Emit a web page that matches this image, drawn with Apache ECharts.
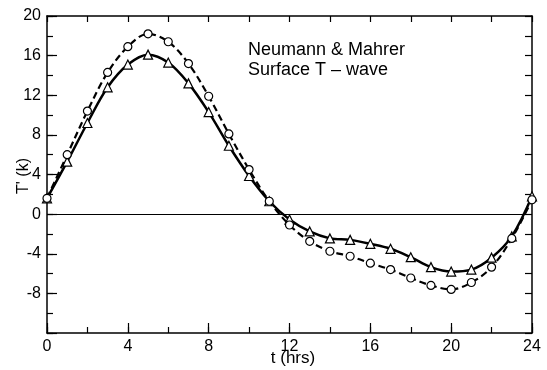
<!DOCTYPE html>
<html><head><meta charset="utf-8">
<script src="https://cdn.jsdelivr.net/npm/echarts@6/dist/echarts.min.js"></script>
<style>html,body{margin:0;padding:0;background:#fff}#c{width:547px;height:370px}</style>
</head><body><div id="c"></div>
<script>
const hours = [0,1,2,3,4,5,6,7,8,9,10,11,12,13,14,15,16,17,18,19,20,21,22,23,24];
const circleVals = [1.6,6.0,10.4,14.3,16.9,18.2,17.4,15.2,11.9,8.1,4.5,1.3,-1.1,-2.75,-3.75,-4.25,-4.95,-5.6,-6.45,-7.2,-7.6,-6.9,-5.35,-2.45,1.45];
const triangleVals = [1.6,5.3,9.2,12.8,15.1,16.1,15.3,13.2,10.3,6.9,3.85,1.3,-0.55,-1.75,-2.45,-2.6,-3.0,-3.5,-4.35,-5.35,-5.8,-5.6,-4.4,-2.25,1.8];
const xTicks = [0,4,8,12,16,20,24];
const yTicks = [-8,-4,0,4,8,12,16,20];
const titleLines = ['Neumann & Mahrer', 'Surface T \u2013 wave'];
const xName = 't (hrs)';
const yName = "T' (k)";

const FONT = 'Liberation Sans';
const grid = {left:47, right:15, top:16, bottom:37, outerBoundsMode:'none', containLabel:false};
const pair = (xs, ys) => xs.map((x,i)=>[x, ys[i]]);
const line = {onZero:false, lineStyle:{color:'#000', width:1.5}};

const chart = echarts.init(document.getElementById('c'), null, {renderer:'canvas'});
chart.setOption({
  animation:false,
  backgroundColor:'#fff',
  grid:[grid, Object.assign({}, grid)],
  xAxis:[
    {gridIndex:0, type:'value', position:'bottom', min:0, max:24, interval:4,
     axisLine:line,
     axisTick:{inside:true, length:10, lineStyle:{color:'#000', width:1.2}},
     axisLabel:{color:'#000', fontSize:16, fontFamily:FONT, margin:6,
       formatter:v=> xTicks.includes(v)? String(v):''},
     splitLine:{show:false}},
    {gridIndex:0, type:'value', position:'top', min:0, max:24, interval:2,
     axisLine:line,
     axisTick:{inside:true, length:6, lineStyle:{color:'#000', width:1.2}},
     axisLabel:{show:false}, splitLine:{show:false}},
    {gridIndex:1, type:'value', position:'bottom', min:0, max:24, interval:2,
     axisLine:{show:false, onZero:false},
     axisTick:{inside:true, length:6, lineStyle:{color:'#000', width:1.2}},
     axisLabel:{show:false}, splitLine:{show:false}}
  ],
  yAxis:[
    {gridIndex:0, type:'value', position:'left', min:-12, max:20, interval:4,
     axisLine:line,
     axisTick:{inside:true, length:10, lineStyle:{color:'#000', width:1.2}},
     axisLabel:{color:'#000', fontSize:16, fontFamily:FONT, margin:6,
       formatter:v=> yTicks.includes(v)? String(v):''},
     splitLine:{show:false}},
    {gridIndex:0, type:'value', position:'right', min:-12, max:20, interval:2,
     axisLine:line,
     axisTick:{inside:true, length:7, lineStyle:{color:'#000', width:1.2}},
     axisLabel:{show:false}, splitLine:{show:false}},
    {gridIndex:1, type:'value', position:'left', min:-12, max:20, interval:2,
     axisLine:{show:false, onZero:false},
     axisTick:{inside:true, length:6, lineStyle:{color:'#000', width:1.2}},
     axisLabel:{show:false}, splitLine:{show:false}}
  ],
  graphic:[
    {type:'text', left:248, top:41, style:{text:titleLines[0], fill:'#000', font:'18px "Liberation Sans"'}},
    {type:'text', left:248, top:61, style:{text:titleLines[1], fill:'#000', font:'18px "Liberation Sans"'}},
    {type:'text', x:293, y:358, style:{text:xName, fill:'#000', font:'17px "Liberation Sans"', align:'center', verticalAlign:'middle'}},
    {type:'text', x:24, y:176, rotation:Math.PI/2, style:{text:yName, fill:'#000', font:'16px "Liberation Sans"', align:'center', verticalAlign:'middle'}}
  ],
  series:[
    {type:'line', xAxisIndex:0, yAxisIndex:0, data:pair(hours, triangleVals),
     smooth:0.35, symbol:'triangle', symbolSize:9, z:3,
     lineStyle:{color:'#000', width:2.5},
     itemStyle:{color:'#fff', borderColor:'#000', borderWidth:1.2},
     markLine:{silent:true, symbol:'none', label:{show:false},
       lineStyle:{color:'#000', width:1, type:'solid'}, data:[{yAxis:0}]}},
    {type:'line', xAxisIndex:0, yAxisIndex:0, data:pair(hours, circleVals),
     smooth:0.35, symbol:'circle', symbolSize:8, z:4,
     lineStyle:{color:'#000', width:2.2, type:[7,4]},
     itemStyle:{color:'#fff', borderColor:'#000', borderWidth:1.2}}
  ]
});
</script></body></html>
